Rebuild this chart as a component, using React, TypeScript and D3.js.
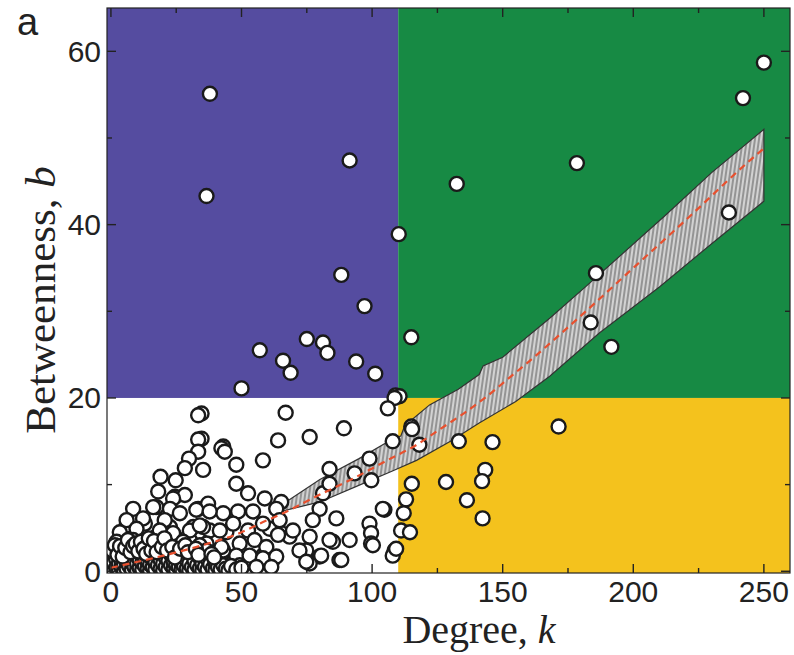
import React from 'react';
import * as d3 from 'd3';

// scatter points: [degree k, betweenness b]
const POINTS: [number, number][] = [
  // purple quadrant
  [37.9, 55.1], [36.6, 43.3], [91.4, 47.4], [110.2, 38.9], [88.2, 34.2], [97.1, 30.6],
  [75.0, 26.8], [81.2, 26.4], [82.9, 25.2], [57.0, 25.5], [65.9, 24.3], [68.8, 22.9],
  [93.9, 24.2], [101.2, 22.8], [50.0, 21.1], [109.0, 20.3],
  // green quadrant
  [250.0, 58.7], [242.0, 54.6], [178.4, 47.1], [132.4, 44.7], [236.6, 41.4], [185.7, 34.4],
  [183.7, 28.7], [191.6, 25.9], [115.0, 27.0], [110.5, 20.2],
  // yellow quadrant
  [115.0, 16.7], [171.4, 16.7], [108.6, 20.0], [106.0, 18.8], [115.3, 16.4], [107.9, 15.0],
  [118.1, 14.6], [133.2, 15.0], [146.1, 14.9], [143.3, 11.7], [142.1, 10.4], [115.2, 10.1],
  [128.3, 10.3], [136.3, 8.2], [142.3, 6.1], [113.0, 8.3], [112.1, 6.7], [111.1, 4.7],
  [114.5, 4.5], [104.7, 7.1], [108.6, 2.4], [107.9, 1.8], [109.2, 2.6],
  // white quadrant, upper part
  [76.1, 15.5], [89.2, 16.5], [99.0, 13.0], [83.7, 11.8], [93.3, 11.3], [99.7, 10.5],
  [81.2, 9.0], [83.7, 10.1], [104.1, 7.2], [79.9, 7.2], [86.3, 6.1], [77.3, 5.9],
  [99.0, 5.5], [99.6, 4.4], [99.6, 3.2], [85.0, 3.4], [76.1, 4.0], [74.8, 2.4],
  [79.9, 1.7], [87.5, 1.3], [76.1, 0.9], [66.9, 18.3], [64.0, 15.1], [34.7, 18.2],
  [34.7, 15.3], [43.0, 14.4], [33.4, 18.0], [33.4, 15.2], [42.3, 14.2], [43.6, 13.8],
  [33.4, 13.8], [29.9, 13.0], [48.0, 12.3], [58.2, 12.8], [35.3, 11.7], [28.3, 11.9],
  [19.0, 10.9], [24.8, 10.5], [48.0, 10.1], [52.5, 9.0], [18.1, 9.2], [24.5, 8.6],
  [58.9, 8.4], [65.2, 8.0], [8.5, 7.2], [17.4, 7.4], [33.4, 7.2], [37.2, 7.8],
  [43.0, 6.7], [48.7, 6.9], [54.4, 6.9], [6.0, 5.3], [13.0, 5.5], [22.6, 5.1],
  [31.5, 5.1], [37.8, 4.7], [44.2, 4.5], [52.5, 4.7], [60.8, 4.9], [65.2, 4.4],
  [68.4, 4.0], [83.7, 3.6], [91.4, 3.6], [100.3, 3.0], [72.2, 2.4], [74.8, 1.1],
  [80.5, 1.8], [88.2, 1.3], [62.0, 1.3], [58.2, 1.8], [51.9, 1.3], [46.8, 1.1],
  [43.0, 2.4], [36.6, 3.2], [30.2, 3.6], [24.5, 4.0], [17.4, 4.0], [9.8, 4.0],
  [4.1, 3.4], [28.3, 8.8], [16.2, 7.4], [23.8, 8.4], [22.6, 7.2], [32.7, 7.1],
  [6.0, 5.9], [12.3, 6.1], [20.6, 5.9], [26.4, 6.7], [3.4, 4.5], [9.8, 4.9],
  [18.7, 4.7], [23.8, 4.4], [30.2, 4.7], [35.3, 5.1], [2.2, 3.4], [8.5, 3.6],
  [14.9, 3.4], [21.3, 3.2], [27.6, 3.4], [34.0, 3.0], [37.8, 6.9], [63.3, 7.2],
  [34.0, 5.3], [41.7, 4.7], [46.8, 5.5], [58.2, 5.5], [64.0, 4.2], [69.7, 4.7],
  [64.6, 5.9], [42.3, 2.8], [49.3, 3.2], [55.0, 3.6], [59.5, 2.8], [36.6, 2.4],
  [48.0, 1.8], [53.1, 1.8], [58.2, 1.5], [63.3, 1.7], [37.8, 0.9], [44.2, 0.5],
  [49.3, 0.7], [55.7, 0.5], [61.4, 0.5],
  // dense cluster near the origin
  [0, 0.2], [0, 0.8], [0, 1.5], [1, 0.1], [1, 1.0], [1, 2.0], [2, 0.4], [2, 1.4], [2, 2.6],
  [3, 0.2], [3, 0.9], [3, 1.8], [4, 0.5], [4, 1.2], [4, 2.4], [5, 0.1], [5, 0.8], [5, 1.6],
  [6, 0.3], [6, 1.1], [6, 2.2], [7, 0.6], [7, 1.5], [7, 2.9], [8, 0.2], [8, 1.0], [8, 1.9],
  [9, 0.5], [9, 1.4], [9, 2.5], [10, 0.1], [10, 0.9], [10, 1.8], [11, 0.4], [11, 1.3],
  [11, 2.7], [12, 0.2], [12, 1.0], [12, 2.0], [13, 0.6], [13, 1.5], [13, 3.1], [14, 0.3],
  [14, 1.2], [14, 2.3], [15, 0.1], [15, 0.8], [15, 1.7], [16, 0.5], [16, 1.4], [16, 2.8],
  [17, 0.2], [17, 1.1], [18, 0.7], [18, 1.8], [18, 2.6], [19, 0.3], [19, 1.3], [20, 0.1],
  [20, 0.9], [20, 2.1], [21, 0.5], [21, 1.6], [22, 0.2], [22, 1.2], [22, 2.6], [23, 0.7],
  [23, 1.9], [24, 0.3], [24, 1.1], [25, 0.1], [25, 0.8], [25, 2.2], [26, 0.5], [26, 1.5],
  [27, 0.2], [27, 1.0], [28, 0.6], [28, 2.0], [29, 0.3], [29, 1.3], [30, 0.1], [30, 0.9],
  [31, 0.5], [31, 2.3], [32, 0.2], [32, 1.2], [33, 0.7], [34, 0.3], [34, 1.6], [35, 0.1],
  [35, 0.9], [36, 0.5], [37, 0.2], [37, 1.4], [38, 0.8], [39, 0.3], [40, 0.1], [40, 1.0],
  [41, 0.5], [42, 0.2], [43, 0.7], [44, 0.3], [45, 0.1], [46, 0.6], [48, 0.2], [50, 0.4],
  [0.5, 2.4], [1.5, 3.0], [2.5, 1.9], [3.5, 2.9], [4.5, 1.7], [5.5, 2.7], [6.5, 3.6],
  [7.5, 2.2], [8.5, 2.9], [9.5, 3.2], [10.5, 2.3], [11.5, 3.4], [12.5, 2.6], [13.5, 2.0],
  [14.5, 3.8], [15.5, 2.4], [16.5, 3.5], [17.5, 2.2], [19.5, 2.8], [20.5, 3.8],
  [21.5, 2.4], [23.5, 2.8], [24.5, 1.6], [26.5, 2.6], [28.5, 3.0], [29.5, 2.2],
  [32.5, 2.6], [33.5, 1.9], [38.5, 2.0], [39.5, 1.6],
];

// fitted trend (red dashed) and its confidence band
const FIT_K = [0, 20, 35, 50, 57, 68, 77, 94, 107, 116, 126, 135, 144, 152, 160, 180, 200, 220, 245, 250];
const FIT_B = [0.4, 1.8, 3.0, 4.5, 5.5, 7.0, 8.4, 10.9, 13.0, 14.4, 16.4, 18.2, 20.2, 22.2, 24.2, 29.5, 35.0, 40.5, 47.5, 48.8];

const BAND_UP_K = [65, 80, 95, 108, 111, 112.5, 122, 133, 141, 142.5, 150, 168, 182, 212, 230, 250];
const BAND_UP_B = [7.6, 10.6, 13.0, 15.3, 15.6, 16.8, 19.2, 21.0, 22.7, 23.7, 24.7, 29.2, 32.9, 41.0, 46.0, 51.0];
const BAND_LO_K = [65, 80, 94, 108, 117, 130, 141, 155, 168, 187, 210, 230, 250];
const BAND_LO_B = [6.9, 8.0, 9.8, 11.6, 12.8, 15.0, 17.1, 19.6, 22.5, 27.5, 32.8, 37.8, 42.7];

const X_MAJOR = [0, 50, 100, 150, 200, 250];
const X_MINOR = [25, 75, 125, 175, 225];
const Y_MAJOR = [0, 20, 40, 60];
const Y_MINOR = [10, 30, 50];

const K_SPLIT = 110;
const B_SPLIT = 20;

const W = 794;
const H = 655;
const L = 107, R = 790, T = 8, B = 573;

export default function App() {
  const x = d3.scaleLinear().domain([-1.5, 260]).range([L, R]);
  const y = d3.scaleLinear().domain([-0.2, 65]).range([B, T]);

  const fitLine = d3.line<number>()
    .x((_, i) => x(FIT_K[i]))
    .y(d => y(d))
    .curve(d3.curveMonotoneX);

  const up = BAND_UP_K.map((k, i) => [x(k), y(BAND_UP_B[i])] as [number, number]);
  const lo = BAND_LO_K.map((k, i) => [x(k), y(BAND_LO_B[i])] as [number, number]);
  const bandPath = 'M' + up.map(p => p.join(',')).join('L') + 'L' + lo.slice().reverse().map(p => p.join(',')).join('L') + 'Z';

  const xs = x(K_SPLIT);
  const ys = y(B_SPLIT);

  return (
    <div>
      <style>{`body{margin:0}`}</style>
      <svg width={W} height={H} style={{ display: 'block', background: '#fff' }}>
        <defs>
          <pattern id="hatch" width="4" height="4" patternUnits="userSpaceOnUse" patternTransform="rotate(8)">
            <rect width="4" height="4" fill="#949494" />
            <rect width="2" height="4" fill="#d2d2d2" />
          </pattern>
          <clipPath id="plot">
            <rect x={L} y={T} width={R - L} height={B - T} />
          </clipPath>
        </defs>

        {/* quadrants */}
        <rect x={L} y={T} width={xs - L} height={ys - T} fill="#554ca0" />
        <rect x={xs} y={T} width={R - xs} height={ys - T} fill="#178a44" />
        <rect x={xs} y={ys} width={R - xs} height={B - ys} fill="#f4c21d" />

        {/* confidence band */}
        <path d={bandPath} fill="url(#hatch)" stroke="#333" strokeWidth={1.2} />

        {/* points */}
        <g clipPath="url(#plot)">
          {POINTS.map((p, i) => (
            <circle key={i} cx={x(p[0])} cy={y(p[1])} r={7} fill="#fff" stroke="#1a1a1a" strokeWidth={2.4} />
          ))}
        </g>

        {/* fit */}
        <path d={fitLine(FIT_B) || ''} fill="none" stroke="#e8502e" strokeWidth={2.2} strokeDasharray="7,5" />

        {/* frame */}
        <rect x={L} y={T} width={R - L} height={B - T} fill="none" stroke="#222" strokeWidth={1.2} />

        {/* ticks */}
        <g stroke="#222" strokeWidth={1.4}>
          {X_MAJOR.map(v => (
            <g key={'xm' + v}>
              <line x1={x(v)} x2={x(v)} y1={B} y2={B - 9} />
              <line x1={x(v)} x2={x(v)} y1={T} y2={T + 9} />
            </g>
          ))}
          {X_MINOR.map(v => (
            <g key={'xn' + v}>
              <line x1={x(v)} x2={x(v)} y1={B} y2={B - 5} />
              <line x1={x(v)} x2={x(v)} y1={T} y2={T + 5} />
            </g>
          ))}
          {Y_MAJOR.map(v => (
            <g key={'ym' + v}>
              <line x1={L} x2={L + 9} y1={y(v)} y2={y(v)} />
              <line x1={R} x2={R - 9} y1={y(v)} y2={y(v)} />
            </g>
          ))}
          {Y_MINOR.map(v => (
            <g key={'yn' + v}>
              <line x1={L} x2={L + 5} y1={y(v)} y2={y(v)} />
              <line x1={R} x2={R - 5} y1={y(v)} y2={y(v)} />
            </g>
          ))}
        </g>

        {/* tick labels */}
        <g fontFamily="'Liberation Sans', Arial, sans-serif" fontSize={30} fill="#222">
          {X_MAJOR.map(v => (
            <text key={'xl' + v} x={x(v)} y={602} textAnchor="middle">{v}</text>
          ))}
          {Y_MAJOR.map(v => (
            <text key={'yl' + v} x={101} y={y(v)} dy="0.35em" textAnchor="end">{v}</text>
          ))}
        </g>

        {/* axis titles */}
        <text x={479} y={643} textAnchor="middle" fontFamily="'Liberation Serif', 'Times New Roman', serif" fontSize={40} fill="#222">
          Degree, <tspan fontStyle="italic">k</tspan>
        </text>
        <text transform="translate(55,300) rotate(-90)" textAnchor="middle" fontFamily="'Liberation Serif', 'Times New Roman', serif" fontSize={43} fill="#222">
          Betweenness, <tspan fontStyle="italic">b</tspan>
        </text>
        <text x={17} y={35} fontFamily="'Liberation Sans', Arial, sans-serif" fontSize={38} fill="#222">a</text>
      </svg>
    </div>
  );
}
